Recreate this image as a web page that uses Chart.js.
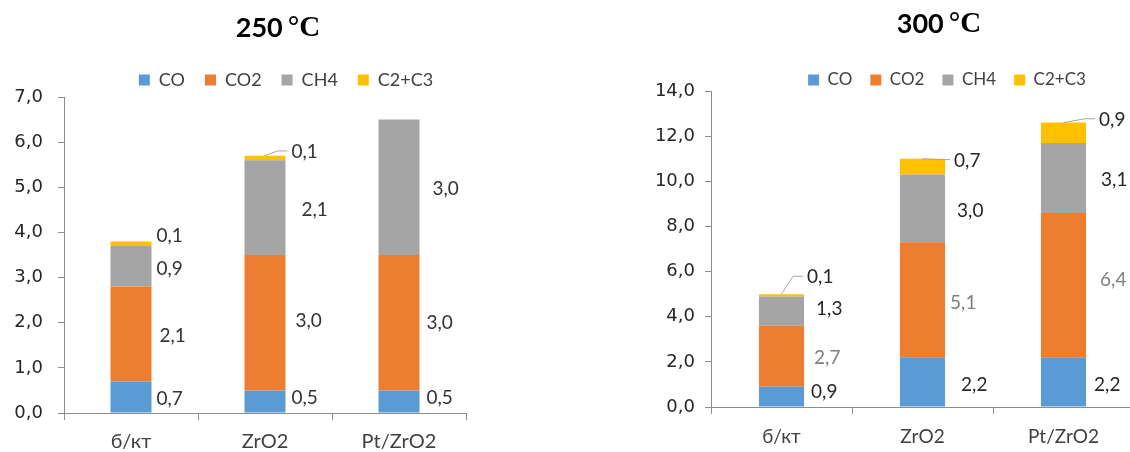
<!DOCTYPE html>
<html>
<head>
<meta charset="utf-8">
<script src="https://cdn.jsdelivr.net/npm/chart.js@4.4.1/dist/chart.umd.min.js"></script>
<style>
  html, body { margin: 0; padding: 0; background: #fff; overflow: hidden; width: 1130px; height: 452px; }
  .box { position: absolute; top: 0; height: 452px; }
  #box250 { left: 0; width: 565px; }
  #box300 { left: 565px; width: 570px; }
</style>
</head>
<body>
<div class="box" id="box250"><canvas id="chart250"></canvas></div>
<div class="box" id="box300"><canvas id="chart300"></canvas></div>
<script>
// Product distribution by catalyst, two temperatures
const categories = ['б/кт', 'ZrO2', 'Pt/ZrO2'];
const seriesNames = ['CO', 'CO2', 'CH4', 'C2+C3'];

const co250   = [0.7, 0.5, 0.5];
const co2_250 = [2.1, 3.0, 3.0];
const ch4_250 = [0.9, 2.1, 3.0];
const c2c3_250 = [0.1, 0.1, 0];

const co300   = [0.9, 2.2, 2.2];
const co2_300 = [2.7, 5.1, 6.4];
const ch4_300 = [1.3, 3.0, 3.1];
const c2c3_300 = [0.1, 0.7, 0.9];

const yTicks250 = [0, 1, 2, 3, 4, 5, 6, 7];
const yTicks300 = [0, 2, 4, 6, 8, 10, 12, 14];

const seriesColors = ['#5B9BD5', '#ED7D31', '#A5A5A5', '#FFC000'];

const fmt = v => Number(v).toFixed(1).replace('.', ',');

// Title with a sans number and a serif unit
const titlePlugin = {
  id: 'splitTitle',
  afterDraw(chart, args, o) {
    const ctx = chart.ctx;
    ctx.save();
    ctx.textBaseline = 'middle';
    ctx.fillStyle = '#000';
    ctx.font = o.numFont;
    const w1 = ctx.measureText(o.number).width;
    ctx.font = o.unitFont;
    const w2 = ctx.measureText(o.unit).width;
    const x = o.cx - (w1 + o.gap + w2) / 2;
    ctx.textAlign = 'left';
    ctx.font = o.numFont;
    ctx.fillText(o.number, x, o.cy);
    ctx.font = o.unitFont;
    ctx.fillText(o.unit, x + w1 + o.gap, o.cy + 1);
    ctx.restore();
  }
};

// Fixed legend band height and legend placement
const legendPlace = {
  id: 'legendPlace',
  beforeInit(chart, args, o) {
    const lg = chart.legend;
    if (!lg) return;
    const fit = lg.fit;
    lg.fit = function () { fit.call(this); this.height = o.height; };
  },
  afterLayout(chart, args, o) {
    const lg = chart.legend;
    if (!lg) return;
    const lo = chart.options.plugins.legend.labels;
    const itemH = Math.max(lo.font.size, lo.boxHeight);
    const dx = o.cx - (lg.left + lg.right) / 2;
    lg.left += dx; lg.right += dx;
    const h = lg.bottom - lg.top;
    lg.top = o.cy - lo.padding - itemH / 2;
    lg.bottom = lg.top + h;
  }
};

// Value labels placed to the right of each stacked segment
const segLabels = {
  id: 'segLabels',
  afterDatasetsDraw(chart, args, o) {
    const ctx = chart.ctx;
    ctx.save();
    ctx.font = o.font;
    ctx.textAlign = 'left';
    ctx.textBaseline = 'middle';
    chart.data.datasets.forEach((ds, i) => {
      const meta = chart.getDatasetMeta(i);
      meta.data.forEach((bar, j) => {
        const v = ds.data[j];
        if (!v) return;
        const s = o.shift[i][j];
        const x = bar.x + bar.width / 2 + s[0];
        const y = (bar.y + bar.base) / 2 + s[1];
        if (o.leader[i][j]) {
          ctx.strokeStyle = '#A6A6A6';
          ctx.lineWidth = 1;
          ctx.beginPath();
          ctx.moveTo(bar.x, bar.y);
          ctx.lineTo(x - 14, y - 1);
          ctx.lineTo(x - 4, y - 1);
          ctx.stroke();
        }
        ctx.fillStyle = o.colors[i];
        ctx.fillText(fmt(v), x, y);
      });
    });
    ctx.restore();
  }
};

function buildChart(id, cfg) {
  const datasets = cfg.series.map((data, i) => ({
    label: seriesNames[i],
    data: data,
    backgroundColor: seriesColors[i],
    borderWidth: 0,
    barPercentage: cfg.barPct,
    categoryPercentage: 1
  }));
  return new Chart(document.getElementById(id), {
    type: 'bar',
    data: { labels: categories, datasets },
    plugins: [titlePlugin, legendPlace, segLabels],
    options: {
      responsive: true,
      maintainAspectRatio: false,
      animation: false,
      layout: { padding: { top: 0, left: 0, right: cfg.padRight, bottom: 0 } },
      scales: {
        x: {
          stacked: true,
          grid: { offset: true, drawOnChartArea: false, drawTicks: true, tickLength: 7, color: '#8C8C8C' },
          border: { color: '#8C8C8C', width: 1 },
          ticks: { font: { family: 'Lato', size: cfg.catFont }, color: '#404040', padding: cfg.catPad },
          afterFit(s) { s.height = cfg.xAxisH; }
        },
        y: {
          stacked: true,
          min: cfg.yTicks[0],
          max: cfg.yTicks[cfg.yTicks.length - 1],
          afterBuildTicks(s) { s.ticks = cfg.yTicks.map(v => ({ value: v })); },
          ticks: { callback: v => fmt(v), font: { family: 'DejaVu Sans', size: 18 }, color: '#262626', padding: cfg.yPad },
          grid: { drawOnChartArea: false, drawTicks: true, tickLength: 6, color: '#8C8C8C' },
          border: { color: '#8C8C8C', width: 1 },
          afterFit(s) { s.width = cfg.yAxisW; }
        }
      },
      plugins: {
        tooltip: { enabled: false },
        title: { display: false },
        legend: {
          display: true,
          position: 'top',
          labels: {
            boxWidth: 11, boxHeight: 11, padding: cfg.legendGap,
            font: { family: 'Lato', size: cfg.legendFont }, color: '#404040'
          }
        },
        splitTitle: {
          number: cfg.titleNum, unit: '°C', gap: 5,
          numFont: 'bold 27px Lato', unitFont: 'bold 29px "Liberation Serif"',
          cx: cfg.titleX, cy: cfg.titleY
        },
        legendPlace: { height: cfg.plotTop, cx: cfg.legendX, cy: 80 },
        segLabels: {
          font: cfg.labelFont,
          colors: cfg.labelColors,
          shift: cfg.shift,
          leader: cfg.leader
        }
      }
    }
  });
}

function draw() {
  buildChart('chart250', {
    series: [co250, co2_250, ch4_250, c2c3_250],
    yTicks: yTicks250,
    barPct: 0.306,
    padRight: 99, yAxisW: 64, xAxisH: 39, plotTop: 97,
    catFont: 20, catPad: 10, yPad: 15, legendFont: 18, legendGap: 20,
    titleNum: '250', titleX: 278, titleY: 28, legendX: 286,
    labelFont: '19px Lato',
    labelColors: ['#333333', '#333333', '#333333', '#333333'],
    shift: [
      [[5, 2], [6, -4], [7, -4]],
      [[8, 2], [10, -2], [7, 0]],
      [[5, 3], [16, 2], [13, 2]],
      [[5, -8], [6, -6], [0, 0]]
    ],
    leader: [
      [false, false, false],
      [false, false, false],
      [false, false, false],
      [false, true, false]
    ]
  });
  buildChart('chart300', {
    series: [co300, co2_300, ch4_300, c2c3_300],
    yTicks: yTicks300,
    barPct: 0.32,
    padRight: 1, yAxisW: 146, xAxisH: 45, plotTop: 91,
    catFont: 19, catPad: 11, yPad: 10, legendFont: 17, legendGap: 18,
    titleNum: '300', titleX: 374, titleY: 24, legendX: 382,
    labelFont: '19px Lato',
    labelColors: ['#262626', '#7F7F7F', '#262626', '#262626'],
    shift: [
      [[7, -5], [16, 3], [8, 3]],
      [[10, 2], [5, 3], [14, -5]],
      [[12, -2], [12, 3], [15, 2]],
      [[3, -18], [9, -6], [13, -13]]
    ],
    leader: [
      [false, false, false],
      [false, false, false],
      [false, false, false],
      [true, true, true]
    ]
  });
}

const fontsReady = document.fonts && document.fonts.load
  ? Promise.all([
      document.fonts.load('18px Lato'),
      document.fonts.load('bold 27px Lato'),
      document.fonts.load('bold 29px "Liberation Serif"'),
      document.fonts.load('18px "DejaVu Sans"')
    ]).catch(() => {})
  : Promise.resolve();
fontsReady.then(draw);
</script>
</body>
</html>
